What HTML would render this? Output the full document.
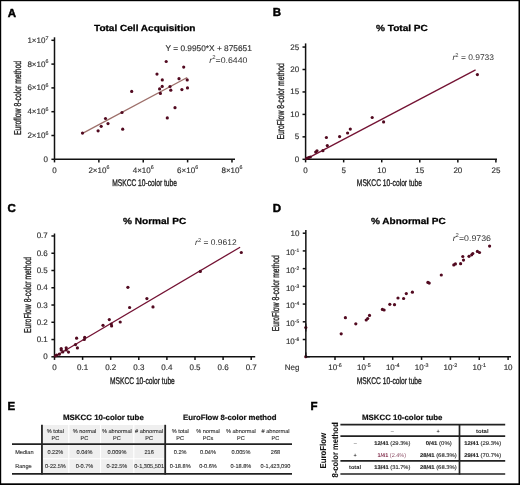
<!DOCTYPE html>
<html><head><meta charset="utf-8"><style>
html,body{margin:0;padding:0;background:#fff;}
svg{display:block;font-family:"Liberation Sans", sans-serif;will-change:transform;text-rendering:geometricPrecision;}
.l{stroke:#2a2a2a;stroke-width:0.15px;}
</style></head><body>
<svg width="520" height="485" viewBox="0 0 520 485">
<rect width="520" height="485" fill="#fff"/>
<rect x="0.00" y="0.00" width="520.00" height="1.20" fill="#000"/>
<rect x="0.00" y="0.00" width="1.20" height="485.00" fill="#000"/>
<rect x="518.50" y="0.00" width="1.50" height="485.00" fill="#000"/>
<rect x="0.00" y="483.30" width="520.00" height="1.70" fill="#000"/>
<text x="7.80" y="16.50" font-size="11.5" font-weight="bold" fill="#000" stroke="#000" stroke-width="0.45">A</text>
<text x="272.80" y="16.30" font-size="11.5" font-weight="bold" fill="#000" stroke="#000" stroke-width="0.45">B</text>
<text x="7.50" y="212.30" font-size="11.5" font-weight="bold" fill="#000" stroke="#000" stroke-width="0.45">C</text>
<text x="272.80" y="212.40" font-size="11.5" font-weight="bold" fill="#000" stroke="#000" stroke-width="0.45">D</text>
<text x="7.40" y="409.90" font-size="11.5" font-weight="bold" fill="#000" stroke="#000" stroke-width="0.45">E</text>
<text x="310.50" y="409.90" font-size="11.5" font-weight="bold" fill="#000" stroke="#000" stroke-width="0.45">F</text>
<text x="94.00" y="30.60" font-size="8.9" font-weight="bold" textLength="101.50" lengthAdjust="spacingAndGlyphs" fill="#000" stroke="#000" stroke-width="0.25">Total Cell Acquisition</text>
<line x1="54.50" y1="37.30" x2="54.50" y2="159.30" stroke="#111" stroke-width="1.5"/>
<line x1="54.50" y1="159.30" x2="235.00" y2="159.30" stroke="#111" stroke-width="1.5"/>
<line x1="54.50" y1="159.30" x2="54.50" y2="162.40" stroke="#111" stroke-width="1.5"/>
<line x1="98.87" y1="159.30" x2="98.87" y2="162.40" stroke="#111" stroke-width="1.5"/>
<line x1="143.24" y1="159.30" x2="143.24" y2="162.40" stroke="#111" stroke-width="1.5"/>
<line x1="187.61" y1="159.30" x2="187.61" y2="162.40" stroke="#111" stroke-width="1.5"/>
<line x1="231.98" y1="159.30" x2="231.98" y2="162.40" stroke="#111" stroke-width="1.5"/>
<line x1="51.40" y1="159.30" x2="54.50" y2="159.30" stroke="#111" stroke-width="1.5"/>
<line x1="51.40" y1="135.50" x2="54.50" y2="135.50" stroke="#111" stroke-width="1.5"/>
<line x1="51.40" y1="111.70" x2="54.50" y2="111.70" stroke="#111" stroke-width="1.5"/>
<line x1="51.40" y1="87.90" x2="54.50" y2="87.90" stroke="#111" stroke-width="1.5"/>
<line x1="51.40" y1="64.10" x2="54.50" y2="64.10" stroke="#111" stroke-width="1.5"/>
<line x1="51.40" y1="40.30" x2="54.50" y2="40.30" stroke="#111" stroke-width="1.5"/>
<text x="48.00" y="161.80" font-size="8.0" text-anchor="end" fill="#333" class="l">0</text>
<text x="48.4" y="138.00" font-size="8.0" text-anchor="end" fill="#333" class="l">2×10<tspan font-size="5.3" dy="-3.3">6</tspan></text>
<text x="48.4" y="114.20" font-size="8.0" text-anchor="end" fill="#333" class="l">4×10<tspan font-size="5.3" dy="-3.3">6</tspan></text>
<text x="48.4" y="90.40" font-size="8.0" text-anchor="end" fill="#333" class="l">6×10<tspan font-size="5.3" dy="-3.3">6</tspan></text>
<text x="48.4" y="66.60" font-size="8.0" text-anchor="end" fill="#333" class="l">8×10<tspan font-size="5.3" dy="-3.3">6</tspan></text>
<text x="48.4" y="42.80" font-size="8.0" text-anchor="end" fill="#333" class="l">1×10<tspan font-size="5.3" dy="-3.3">7</tspan></text>
<text x="54.50" y="172.60" font-size="8.0" text-anchor="middle" fill="#333" class="l">0</text>
<text x="98.87" y="172.6" font-size="8.0" text-anchor="middle" fill="#333" class="l">2×10<tspan font-size="5.3" dy="-3.3">6</tspan></text>
<text x="143.24" y="172.6" font-size="8.0" text-anchor="middle" fill="#333" class="l">4×10<tspan font-size="5.3" dy="-3.3">6</tspan></text>
<text x="187.61" y="172.6" font-size="8.0" text-anchor="middle" fill="#333" class="l">6×10<tspan font-size="5.3" dy="-3.3">6</tspan></text>
<text x="231.98" y="172.6" font-size="8.0" text-anchor="middle" fill="#333" class="l">8×10<tspan font-size="5.3" dy="-3.3">6</tspan></text>
<text x="112.20" y="185.70" font-size="9.6" textLength="64.80" lengthAdjust="spacingAndGlyphs" fill="#222" stroke="#222" stroke-width="0.35">MSKCC 10-color tube</text>
<text transform="translate(21.0,135.1) rotate(-90)" x="0" y="0" font-size="10" stroke="#222" stroke-width="0.35" textLength="74.1" lengthAdjust="spacingAndGlyphs" fill="#222">Euroflow 8-color method</text>
<text x="165.60" y="51.20" font-size="8.2" textLength="86.20" lengthAdjust="spacingAndGlyphs" fill="#333" class="l">Y = 0.9950*X + 875651</text>
<text x="209.3" y="62.7" font-size="8.2" fill="#333" textLength="38.2" lengthAdjust="spacingAndGlyphs"><tspan font-style="italic">r</tspan><tspan font-size="5.6" dy="-3.4">2</tspan><tspan dy="3.4">=0.6440</tspan></text>
<line x1="82.50" y1="133.40" x2="187.20" y2="77.50" stroke="#9d6f6a" stroke-width="1.3"/>
<circle cx="82.50" cy="133.10" r="1.6" fill="#520a20"/>
<circle cx="98.10" cy="130.80" r="1.6" fill="#520a20"/>
<circle cx="101.20" cy="126.30" r="1.6" fill="#520a20"/>
<circle cx="105.50" cy="118.50" r="1.6" fill="#520a20"/>
<circle cx="108.00" cy="123.60" r="1.6" fill="#520a20"/>
<circle cx="122.00" cy="112.50" r="1.6" fill="#520a20"/>
<circle cx="122.70" cy="129.20" r="1.6" fill="#520a20"/>
<circle cx="131.70" cy="91.40" r="1.6" fill="#520a20"/>
<circle cx="157.00" cy="74.10" r="1.6" fill="#520a20"/>
<circle cx="159.60" cy="88.90" r="1.6" fill="#520a20"/>
<circle cx="160.40" cy="93.40" r="1.6" fill="#520a20"/>
<circle cx="162.20" cy="86.40" r="1.6" fill="#520a20"/>
<circle cx="162.30" cy="79.90" r="1.6" fill="#520a20"/>
<circle cx="166.20" cy="61.50" r="1.6" fill="#520a20"/>
<circle cx="167.30" cy="117.90" r="1.6" fill="#520a20"/>
<circle cx="170.00" cy="86.50" r="1.6" fill="#520a20"/>
<circle cx="170.80" cy="90.20" r="1.6" fill="#520a20"/>
<circle cx="175.00" cy="107.70" r="1.6" fill="#520a20"/>
<circle cx="179.00" cy="78.70" r="1.6" fill="#520a20"/>
<circle cx="181.90" cy="89.60" r="1.6" fill="#520a20"/>
<circle cx="183.70" cy="67.10" r="1.6" fill="#520a20"/>
<circle cx="187.20" cy="79.90" r="1.6" fill="#520a20"/>
<circle cx="187.50" cy="87.90" r="1.6" fill="#520a20"/>
<text x="376.00" y="30.60" font-size="8.9" font-weight="bold" textLength="51.80" lengthAdjust="spacingAndGlyphs" fill="#000" stroke="#000" stroke-width="0.25">% Total PC</text>
<line x1="305.60" y1="43.40" x2="305.60" y2="159.30" stroke="#111" stroke-width="1.5"/>
<line x1="305.60" y1="159.30" x2="497.00" y2="159.30" stroke="#111" stroke-width="1.5"/>
<line x1="305.60" y1="159.30" x2="305.60" y2="162.40" stroke="#111" stroke-width="1.5"/>
<line x1="343.66" y1="159.30" x2="343.66" y2="162.40" stroke="#111" stroke-width="1.5"/>
<line x1="381.72" y1="159.30" x2="381.72" y2="162.40" stroke="#111" stroke-width="1.5"/>
<line x1="419.78" y1="159.30" x2="419.78" y2="162.40" stroke="#111" stroke-width="1.5"/>
<line x1="457.84" y1="159.30" x2="457.84" y2="162.40" stroke="#111" stroke-width="1.5"/>
<line x1="495.90" y1="159.30" x2="495.90" y2="162.40" stroke="#111" stroke-width="1.5"/>
<line x1="302.50" y1="159.30" x2="305.60" y2="159.30" stroke="#111" stroke-width="1.5"/>
<line x1="302.50" y1="136.85" x2="305.60" y2="136.85" stroke="#111" stroke-width="1.5"/>
<line x1="302.50" y1="114.40" x2="305.60" y2="114.40" stroke="#111" stroke-width="1.5"/>
<line x1="302.50" y1="91.95" x2="305.60" y2="91.95" stroke="#111" stroke-width="1.5"/>
<line x1="302.50" y1="69.50" x2="305.60" y2="69.50" stroke="#111" stroke-width="1.5"/>
<line x1="302.50" y1="47.05" x2="305.60" y2="47.05" stroke="#111" stroke-width="1.5"/>
<text x="299.20" y="161.80" font-size="8.0" text-anchor="end" fill="#333" class="l">0</text>
<text x="299.20" y="139.35" font-size="8.0" text-anchor="end" fill="#333" class="l">5</text>
<text x="299.20" y="116.90" font-size="8.0" text-anchor="end" fill="#333" class="l">10</text>
<text x="299.20" y="94.45" font-size="8.0" text-anchor="end" fill="#333" class="l">15</text>
<text x="299.20" y="72.00" font-size="8.0" text-anchor="end" fill="#333" class="l">20</text>
<text x="299.20" y="49.55" font-size="8.0" text-anchor="end" fill="#333" class="l">25</text>
<text x="305.60" y="172.60" font-size="8.0" text-anchor="middle" fill="#333" class="l">0</text>
<text x="343.66" y="172.60" font-size="8.0" text-anchor="middle" fill="#333" class="l">5</text>
<text x="381.72" y="172.60" font-size="8.0" text-anchor="middle" fill="#333" class="l">10</text>
<text x="419.78" y="172.60" font-size="8.0" text-anchor="middle" fill="#333" class="l">15</text>
<text x="457.84" y="172.60" font-size="8.0" text-anchor="middle" fill="#333" class="l">20</text>
<text x="495.90" y="172.60" font-size="8.0" text-anchor="middle" fill="#333" class="l">25</text>
<text x="356.80" y="185.70" font-size="9.6" textLength="65.20" lengthAdjust="spacingAndGlyphs" fill="#222" stroke="#222" stroke-width="0.35">MSKCC 10-color tube</text>
<text transform="translate(283.9,139.6) rotate(-90)" x="0" y="0" font-size="10" stroke="#222" stroke-width="0.35" textLength="76.5" lengthAdjust="spacingAndGlyphs" fill="#222">EuroFlow 8-color method</text>
<text x="452.5" y="60.3" font-size="8.2" fill="#333" textLength="41.5" lengthAdjust="spacingAndGlyphs"><tspan font-style="italic">r</tspan><tspan font-size="5.6" dy="-3.4">2</tspan><tspan dy="3.4"> = 0.9733</tspan></text>
<line x1="305.60" y1="159.30" x2="475.60" y2="69.90" stroke="#741334" stroke-width="1.3"/>
<circle cx="477.40" cy="74.60" r="1.6" fill="#520a20"/>
<circle cx="383.60" cy="121.90" r="1.6" fill="#520a20"/>
<circle cx="372.20" cy="117.50" r="1.6" fill="#520a20"/>
<circle cx="350.30" cy="129.10" r="1.6" fill="#520a20"/>
<circle cx="347.60" cy="133.00" r="1.6" fill="#520a20"/>
<circle cx="339.60" cy="136.60" r="1.6" fill="#520a20"/>
<circle cx="326.40" cy="137.50" r="1.6" fill="#520a20"/>
<circle cx="327.30" cy="145.60" r="1.6" fill="#520a20"/>
<circle cx="322.90" cy="150.70" r="1.6" fill="#520a20"/>
<circle cx="317.00" cy="150.80" r="1.6" fill="#520a20"/>
<circle cx="315.70" cy="152.10" r="1.6" fill="#520a20"/>
<circle cx="306.60" cy="158.40" r="1.6" fill="#520a20"/>
<circle cx="308.50" cy="157.60" r="1.6" fill="#520a20"/>
<circle cx="310.30" cy="157.00" r="1.6" fill="#520a20"/>
<text x="123.00" y="223.60" font-size="8.9" font-weight="bold" textLength="63.20" lengthAdjust="spacingAndGlyphs" fill="#000" stroke="#000" stroke-width="0.25">% Normal PC</text>
<line x1="54.50" y1="233.50" x2="54.50" y2="356.80" stroke="#111" stroke-width="1.5"/>
<line x1="54.50" y1="356.80" x2="255.20" y2="356.80" stroke="#111" stroke-width="1.5"/>
<line x1="54.50" y1="356.80" x2="54.50" y2="359.90" stroke="#111" stroke-width="1.5"/>
<line x1="82.60" y1="356.80" x2="82.60" y2="359.90" stroke="#111" stroke-width="1.5"/>
<line x1="110.70" y1="356.80" x2="110.70" y2="359.90" stroke="#111" stroke-width="1.5"/>
<line x1="138.80" y1="356.80" x2="138.80" y2="359.90" stroke="#111" stroke-width="1.5"/>
<line x1="166.90" y1="356.80" x2="166.90" y2="359.90" stroke="#111" stroke-width="1.5"/>
<line x1="195.00" y1="356.80" x2="195.00" y2="359.90" stroke="#111" stroke-width="1.5"/>
<line x1="223.10" y1="356.80" x2="223.10" y2="359.90" stroke="#111" stroke-width="1.5"/>
<line x1="251.20" y1="356.80" x2="251.20" y2="359.90" stroke="#111" stroke-width="1.5"/>
<line x1="51.40" y1="356.80" x2="54.50" y2="356.80" stroke="#111" stroke-width="1.5"/>
<line x1="51.40" y1="339.54" x2="54.50" y2="339.54" stroke="#111" stroke-width="1.5"/>
<line x1="51.40" y1="322.28" x2="54.50" y2="322.28" stroke="#111" stroke-width="1.5"/>
<line x1="51.40" y1="305.02" x2="54.50" y2="305.02" stroke="#111" stroke-width="1.5"/>
<line x1="51.40" y1="287.76" x2="54.50" y2="287.76" stroke="#111" stroke-width="1.5"/>
<line x1="51.40" y1="270.50" x2="54.50" y2="270.50" stroke="#111" stroke-width="1.5"/>
<line x1="51.40" y1="253.24" x2="54.50" y2="253.24" stroke="#111" stroke-width="1.5"/>
<line x1="51.40" y1="235.98" x2="54.50" y2="235.98" stroke="#111" stroke-width="1.5"/>
<text x="47.80" y="359.30" font-size="8.0" text-anchor="end" fill="#333" class="l">0</text>
<text x="47.80" y="342.04" font-size="8.0" text-anchor="end" fill="#333" class="l">0.1</text>
<text x="47.80" y="324.78" font-size="8.0" text-anchor="end" fill="#333" class="l">0.2</text>
<text x="47.80" y="307.52" font-size="8.0" text-anchor="end" fill="#333" class="l">0.3</text>
<text x="47.80" y="290.26" font-size="8.0" text-anchor="end" fill="#333" class="l">0.4</text>
<text x="47.80" y="273.00" font-size="8.0" text-anchor="end" fill="#333" class="l">0.5</text>
<text x="47.80" y="255.74" font-size="8.0" text-anchor="end" fill="#333" class="l">0.6</text>
<text x="47.80" y="238.48" font-size="8.0" text-anchor="end" fill="#333" class="l">0.7</text>
<text x="54.50" y="370.00" font-size="8.0" text-anchor="middle" fill="#333" class="l">0</text>
<text x="82.60" y="370.00" font-size="8.0" text-anchor="middle" fill="#333" class="l">0.1</text>
<text x="110.70" y="370.00" font-size="8.0" text-anchor="middle" fill="#333" class="l">0.2</text>
<text x="138.80" y="370.00" font-size="8.0" text-anchor="middle" fill="#333" class="l">0.3</text>
<text x="166.90" y="370.00" font-size="8.0" text-anchor="middle" fill="#333" class="l">0.4</text>
<text x="195.00" y="370.00" font-size="8.0" text-anchor="middle" fill="#333" class="l">0.5</text>
<text x="223.10" y="370.00" font-size="8.0" text-anchor="middle" fill="#333" class="l">0.6</text>
<text x="251.20" y="370.00" font-size="8.0" text-anchor="middle" fill="#333" class="l">0.7</text>
<text x="110.00" y="383.50" font-size="9.6" textLength="64.80" lengthAdjust="spacingAndGlyphs" fill="#222" stroke="#222" stroke-width="0.35">MSKCC 10-color tube</text>
<text transform="translate(30.6,333.0) rotate(-90)" x="0" y="0" font-size="10" stroke="#222" stroke-width="0.35" textLength="76.1" lengthAdjust="spacingAndGlyphs" fill="#222">EuroFlow 8-color method</text>
<text x="195.1" y="245.2" font-size="8.2" fill="#333" textLength="41.5" lengthAdjust="spacingAndGlyphs"><tspan font-style="italic">r</tspan><tspan font-size="5.6" dy="-3.4">2</tspan><tspan dy="3.4"> = 0.9612</tspan></text>
<line x1="54.50" y1="356.80" x2="240.10" y2="247.20" stroke="#741334" stroke-width="1.3"/>
<circle cx="76.60" cy="338.20" r="1.6" fill="#520a20"/>
<circle cx="84.70" cy="337.30" r="1.6" fill="#520a20"/>
<circle cx="84.30" cy="339.50" r="1.6" fill="#520a20"/>
<circle cx="75.50" cy="344.60" r="1.6" fill="#520a20"/>
<circle cx="77.40" cy="347.90" r="1.6" fill="#520a20"/>
<circle cx="61.20" cy="348.50" r="1.6" fill="#520a20"/>
<circle cx="61.20" cy="350.00" r="1.6" fill="#520a20"/>
<circle cx="66.20" cy="347.80" r="1.6" fill="#520a20"/>
<circle cx="66.20" cy="350.00" r="1.6" fill="#520a20"/>
<circle cx="68.50" cy="352.10" r="1.6" fill="#520a20"/>
<circle cx="62.80" cy="351.90" r="1.6" fill="#520a20"/>
<circle cx="59.30" cy="354.20" r="1.6" fill="#520a20"/>
<circle cx="56.60" cy="355.00" r="1.6" fill="#520a20"/>
<circle cx="55.50" cy="355.80" r="1.6" fill="#520a20"/>
<circle cx="109.30" cy="319.60" r="1.6" fill="#520a20"/>
<circle cx="120.20" cy="322.00" r="1.6" fill="#520a20"/>
<circle cx="103.00" cy="325.30" r="1.6" fill="#520a20"/>
<circle cx="111.30" cy="324.00" r="1.6" fill="#520a20"/>
<circle cx="111.60" cy="326.00" r="1.6" fill="#520a20"/>
<circle cx="127.90" cy="287.30" r="1.6" fill="#520a20"/>
<circle cx="146.90" cy="298.60" r="1.6" fill="#520a20"/>
<circle cx="129.60" cy="307.50" r="1.6" fill="#520a20"/>
<circle cx="153.00" cy="306.90" r="1.6" fill="#520a20"/>
<circle cx="200.30" cy="271.40" r="1.6" fill="#520a20"/>
<circle cx="241.30" cy="252.50" r="1.6" fill="#520a20"/>
<text x="371.00" y="223.60" font-size="8.9" font-weight="bold" textLength="74.80" lengthAdjust="spacingAndGlyphs" fill="#000" stroke="#000" stroke-width="0.25">% Abnormal PC</text>
<line x1="305.85" y1="230.10" x2="305.85" y2="356.80" stroke="#111" stroke-width="1.5"/>
<line x1="305.85" y1="356.80" x2="511.00" y2="356.80" stroke="#111" stroke-width="1.5"/>
<line x1="335.00" y1="356.80" x2="335.00" y2="359.90" stroke="#111" stroke-width="1.5"/>
<line x1="363.85" y1="356.80" x2="363.85" y2="359.90" stroke="#111" stroke-width="1.5"/>
<line x1="392.70" y1="356.80" x2="392.70" y2="359.90" stroke="#111" stroke-width="1.5"/>
<line x1="421.55" y1="356.80" x2="421.55" y2="359.90" stroke="#111" stroke-width="1.5"/>
<line x1="450.40" y1="356.80" x2="450.40" y2="359.90" stroke="#111" stroke-width="1.5"/>
<line x1="479.25" y1="356.80" x2="479.25" y2="359.90" stroke="#111" stroke-width="1.5"/>
<line x1="508.10" y1="356.80" x2="508.10" y2="359.90" stroke="#111" stroke-width="1.5"/>
<line x1="302.75" y1="233.20" x2="305.85" y2="233.20" stroke="#111" stroke-width="1.5"/>
<line x1="302.75" y1="250.92" x2="305.85" y2="250.92" stroke="#111" stroke-width="1.5"/>
<line x1="302.75" y1="268.64" x2="305.85" y2="268.64" stroke="#111" stroke-width="1.5"/>
<line x1="302.75" y1="286.36" x2="305.85" y2="286.36" stroke="#111" stroke-width="1.5"/>
<line x1="302.75" y1="304.08" x2="305.85" y2="304.08" stroke="#111" stroke-width="1.5"/>
<line x1="302.75" y1="321.80" x2="305.85" y2="321.80" stroke="#111" stroke-width="1.5"/>
<line x1="302.75" y1="339.52" x2="305.85" y2="339.52" stroke="#111" stroke-width="1.5"/>
<text x="299.40" y="235.70" font-size="8.0" text-anchor="end" fill="#333" class="l">10</text>
<text x="299.2" y="255.12" font-size="8.0" text-anchor="end" fill="#333" class="l">10<tspan font-size="4.9" dy="-3.0">-1</tspan></text>
<text x="299.2" y="272.84" font-size="8.0" text-anchor="end" fill="#333" class="l">10<tspan font-size="4.9" dy="-3.0">-2</tspan></text>
<text x="299.2" y="290.56" font-size="8.0" text-anchor="end" fill="#333" class="l">10<tspan font-size="4.9" dy="-3.0">-3</tspan></text>
<text x="299.2" y="308.28" font-size="8.0" text-anchor="end" fill="#333" class="l">10<tspan font-size="4.9" dy="-3.0">-4</tspan></text>
<text x="299.2" y="326.00" font-size="8.0" text-anchor="end" fill="#333" class="l">10<tspan font-size="4.9" dy="-3.0">-5</tspan></text>
<text x="299.2" y="343.72" font-size="8.0" text-anchor="end" fill="#333" class="l">10<tspan font-size="4.9" dy="-3.0">-6</tspan></text>
<text x="292.20" y="370.00" font-size="8.0" text-anchor="middle" fill="#333" class="l">Neg</text>
<text x="335.00" y="370.0" font-size="8.0" text-anchor="middle" fill="#333" class="l">10<tspan font-size="5.3" dy="-3.3">-6</tspan></text>
<text x="363.85" y="370.0" font-size="8.0" text-anchor="middle" fill="#333" class="l">10<tspan font-size="5.3" dy="-3.3">-5</tspan></text>
<text x="392.70" y="370.0" font-size="8.0" text-anchor="middle" fill="#333" class="l">10<tspan font-size="5.3" dy="-3.3">-4</tspan></text>
<text x="421.55" y="370.0" font-size="8.0" text-anchor="middle" fill="#333" class="l">10<tspan font-size="5.3" dy="-3.3">-3</tspan></text>
<text x="450.40" y="370.0" font-size="8.0" text-anchor="middle" fill="#333" class="l">10<tspan font-size="5.3" dy="-3.3">-2</tspan></text>
<text x="479.25" y="370.0" font-size="8.0" text-anchor="middle" fill="#333" class="l">10<tspan font-size="5.3" dy="-3.3">-1</tspan></text>
<text x="508.10" y="370.00" font-size="8.0" text-anchor="middle" fill="#333" class="l">10</text>
<text x="356.80" y="383.50" font-size="9.6" textLength="65.00" lengthAdjust="spacingAndGlyphs" fill="#222" stroke="#222" stroke-width="0.35">MSKCC 10-color tube</text>
<text transform="translate(278.5,331.3) rotate(-90)" x="0" y="0" font-size="10" stroke="#222" stroke-width="0.35" textLength="76.2" lengthAdjust="spacingAndGlyphs" fill="#222">EuroFlow 8-color method</text>
<text x="452.7" y="240.7" font-size="8.2" fill="#333" textLength="38.2" lengthAdjust="spacingAndGlyphs"><tspan font-style="italic">r</tspan><tspan font-size="5.6" dy="-3.4">2</tspan><tspan dy="3.4">=0.9736</tspan></text>
<circle cx="345.40" cy="317.70" r="1.6" fill="#520a20"/>
<circle cx="341.20" cy="333.80" r="1.6" fill="#520a20"/>
<circle cx="355.80" cy="323.80" r="1.6" fill="#520a20"/>
<circle cx="366.20" cy="320.00" r="1.6" fill="#520a20"/>
<circle cx="367.70" cy="318.50" r="1.6" fill="#520a20"/>
<circle cx="369.50" cy="315.40" r="1.6" fill="#520a20"/>
<circle cx="305.80" cy="327.60" r="1.6" fill="#520a20"/>
<circle cx="305.80" cy="356.70" r="1.6" fill="#520a20"/>
<circle cx="382.40" cy="309.40" r="1.6" fill="#520a20"/>
<circle cx="384.10" cy="310.00" r="1.6" fill="#520a20"/>
<circle cx="389.80" cy="304.30" r="1.6" fill="#520a20"/>
<circle cx="394.50" cy="304.70" r="1.6" fill="#520a20"/>
<circle cx="398.00" cy="298.00" r="1.6" fill="#520a20"/>
<circle cx="403.60" cy="298.50" r="1.6" fill="#520a20"/>
<circle cx="406.30" cy="293.60" r="1.6" fill="#520a20"/>
<circle cx="412.40" cy="292.20" r="1.6" fill="#520a20"/>
<circle cx="427.90" cy="282.40" r="1.6" fill="#520a20"/>
<circle cx="429.20" cy="283.10" r="1.6" fill="#520a20"/>
<circle cx="441.30" cy="275.00" r="1.6" fill="#520a20"/>
<circle cx="453.80" cy="264.90" r="1.6" fill="#520a20"/>
<circle cx="455.40" cy="263.90" r="1.6" fill="#520a20"/>
<circle cx="460.60" cy="263.70" r="1.6" fill="#520a20"/>
<circle cx="462.80" cy="256.50" r="1.6" fill="#520a20"/>
<circle cx="463.50" cy="260.10" r="1.6" fill="#520a20"/>
<circle cx="469.00" cy="256.30" r="1.6" fill="#520a20"/>
<circle cx="471.70" cy="254.80" r="1.6" fill="#520a20"/>
<circle cx="472.80" cy="253.50" r="1.6" fill="#520a20"/>
<circle cx="477.40" cy="251.40" r="1.6" fill="#520a20"/>
<circle cx="479.50" cy="252.50" r="1.6" fill="#520a20"/>
<circle cx="489.60" cy="246.10" r="1.6" fill="#520a20"/>
<line x1="305.85" y1="323.50" x2="305.85" y2="331.50" stroke="#111" stroke-width="1.2"/>
<line x1="305.85" y1="352.50" x2="305.85" y2="356.80" stroke="#111" stroke-width="1.2"/>
<line x1="305.85" y1="356.80" x2="309.85" y2="356.80" stroke="#111" stroke-width="1.2"/>
<text x="63.00" y="419.70" font-size="7.7" font-weight="bold" textLength="80.80" lengthAdjust="spacingAndGlyphs" fill="#111" stroke="#111" stroke-width="0.2">MSKCC 10-color tube</text>
<text x="183.00" y="420.30" font-size="7.7" font-weight="bold" textLength="93.60" lengthAdjust="spacingAndGlyphs" fill="#111" stroke="#111" stroke-width="0.2">EuroFlow 8-color method</text>
<rect x="42.70" y="425.00" width="25.50" height="18.30" fill="#efefef"/>
<rect x="42.70" y="444.90" width="25.50" height="13.30" fill="#efefef"/>
<rect x="42.70" y="459.30" width="25.50" height="13.60" fill="#efefef"/>
<rect x="69.40" y="425.00" width="30.60" height="18.30" fill="#efefef"/>
<rect x="69.40" y="444.90" width="30.60" height="13.30" fill="#efefef"/>
<rect x="69.40" y="459.30" width="30.60" height="13.60" fill="#efefef"/>
<rect x="101.10" y="425.00" width="32.10" height="18.30" fill="#efefef"/>
<rect x="101.10" y="444.90" width="32.10" height="13.30" fill="#efefef"/>
<rect x="101.10" y="459.30" width="32.10" height="13.60" fill="#efefef"/>
<rect x="134.40" y="425.00" width="30.10" height="18.30" fill="#efefef"/>
<rect x="134.40" y="444.90" width="30.10" height="13.30" fill="#efefef"/>
<rect x="134.40" y="459.30" width="30.10" height="13.60" fill="#efefef"/>
<line x1="41.95" y1="424.80" x2="41.95" y2="474.60" stroke="#222" stroke-width="1.8"/>
<line x1="165.20" y1="424.80" x2="165.20" y2="474.60" stroke="#222" stroke-width="1.8"/>
<line x1="12.00" y1="444.05" x2="292.00" y2="444.05" stroke="#222" stroke-width="1.8"/>
<line x1="12.00" y1="473.85" x2="292.00" y2="473.85" stroke="#222" stroke-width="1.8"/>
<text x="55.40" y="433.10" font-size="5.6" text-anchor="middle" fill="#333" stroke="#333" stroke-width="0.12">% total</text>
<text x="55.40" y="439.80" font-size="5.6" text-anchor="middle" fill="#333" stroke="#333" stroke-width="0.12">PC</text>
<text x="84.50" y="433.10" font-size="5.6" text-anchor="middle" fill="#333" stroke="#333" stroke-width="0.12">% normal</text>
<text x="84.50" y="439.80" font-size="5.6" text-anchor="middle" fill="#333" stroke="#333" stroke-width="0.12">PC</text>
<text x="116.90" y="433.10" font-size="5.6" text-anchor="middle" fill="#333" stroke="#333" stroke-width="0.12">% abnormal</text>
<text x="116.90" y="439.80" font-size="5.6" text-anchor="middle" fill="#333" stroke="#333" stroke-width="0.12">PC</text>
<text x="149.10" y="433.10" font-size="5.6" text-anchor="middle" fill="#333" stroke="#333" stroke-width="0.12"># abnormal</text>
<text x="149.10" y="439.80" font-size="5.6" text-anchor="middle" fill="#333" stroke="#333" stroke-width="0.12">PC</text>
<text x="180.20" y="433.10" font-size="5.6" text-anchor="middle" fill="#333" stroke="#333" stroke-width="0.12">% total</text>
<text x="180.20" y="439.80" font-size="5.6" text-anchor="middle" fill="#333" stroke="#333" stroke-width="0.12">PC</text>
<text x="208.00" y="433.10" font-size="5.6" text-anchor="middle" fill="#333" stroke="#333" stroke-width="0.12">% normal</text>
<text x="208.00" y="439.80" font-size="5.6" text-anchor="middle" fill="#333" stroke="#333" stroke-width="0.12">PCs</text>
<text x="240.90" y="433.10" font-size="5.6" text-anchor="middle" fill="#333" stroke="#333" stroke-width="0.12">% abnormal</text>
<text x="240.90" y="439.80" font-size="5.6" text-anchor="middle" fill="#333" stroke="#333" stroke-width="0.12">PC</text>
<text x="275.50" y="433.10" font-size="5.6" text-anchor="middle" fill="#333" stroke="#333" stroke-width="0.12"># abnormal</text>
<text x="275.50" y="439.80" font-size="5.6" text-anchor="middle" fill="#333" stroke="#333" stroke-width="0.12">PC</text>
<text x="55.40" y="453.60" font-size="5.6" text-anchor="middle" fill="#333" stroke="#333" stroke-width="0.12">0.22%</text>
<text x="55.40" y="467.90" font-size="5.6" text-anchor="middle" fill="#333" stroke="#333" stroke-width="0.12">0-22.5%</text>
<text x="84.50" y="453.60" font-size="5.6" text-anchor="middle" fill="#333" stroke="#333" stroke-width="0.12">0.04%</text>
<text x="84.50" y="467.90" font-size="5.6" text-anchor="middle" fill="#333" stroke="#333" stroke-width="0.12">0-0.7%</text>
<text x="116.90" y="453.60" font-size="5.6" text-anchor="middle" fill="#333" stroke="#333" stroke-width="0.12">0.009%</text>
<text x="116.90" y="467.90" font-size="5.6" text-anchor="middle" fill="#333" stroke="#333" stroke-width="0.12">0-22.5%</text>
<text x="149.10" y="453.60" font-size="5.6" text-anchor="middle" fill="#333" stroke="#333" stroke-width="0.12">216</text>
<text x="149.10" y="467.90" font-size="5.6" text-anchor="middle" fill="#333" stroke="#333" stroke-width="0.12">0-1,305,501</text>
<text x="180.20" y="453.60" font-size="5.6" text-anchor="middle" fill="#333" stroke="#333" stroke-width="0.12">0.2%</text>
<text x="180.20" y="467.90" font-size="5.6" text-anchor="middle" fill="#333" stroke="#333" stroke-width="0.12">0-18.8%</text>
<text x="208.00" y="453.60" font-size="5.6" text-anchor="middle" fill="#333" stroke="#333" stroke-width="0.12">0.04%</text>
<text x="208.00" y="467.90" font-size="5.6" text-anchor="middle" fill="#333" stroke="#333" stroke-width="0.12">0-0.6%</text>
<text x="240.90" y="453.60" font-size="5.6" text-anchor="middle" fill="#333" stroke="#333" stroke-width="0.12">0.005%</text>
<text x="240.90" y="467.90" font-size="5.6" text-anchor="middle" fill="#333" stroke="#333" stroke-width="0.12">0-18.8%</text>
<text x="275.50" y="453.60" font-size="5.6" text-anchor="middle" fill="#333" stroke="#333" stroke-width="0.12">268</text>
<text x="275.50" y="467.90" font-size="5.6" text-anchor="middle" fill="#333" stroke="#333" stroke-width="0.12">0-1,423,090</text>
<text x="15.20" y="453.60" font-size="5.6" fill="#333" stroke="#333" stroke-width="0.12">Median</text>
<text x="15.20" y="467.90" font-size="5.6" fill="#333" stroke="#333" stroke-width="0.12">Range</text>
<text x="362.00" y="420.10" font-size="7.7" font-weight="bold" textLength="80.50" lengthAdjust="spacingAndGlyphs" fill="#111" stroke="#111" stroke-width="0.2">MSKCC 10-color tube</text>
<line x1="340.40" y1="424.70" x2="505.20" y2="424.70" stroke="#222" stroke-width="1.7"/>
<line x1="340.40" y1="436.20" x2="505.20" y2="436.20" stroke="#222" stroke-width="1.7"/>
<line x1="340.40" y1="460.90" x2="505.20" y2="460.90" stroke="#222" stroke-width="1.7"/>
<line x1="340.40" y1="474.00" x2="505.20" y2="474.00" stroke="#222" stroke-width="1.7"/>
<line x1="459.50" y1="424.00" x2="459.50" y2="474.60" stroke="#222" stroke-width="1.7"/>
<text transform="translate(325.8,468.6) rotate(-90)" font-size="8.6" font-weight="bold" stroke="#111" stroke-width="0.05" textLength="35.8" lengthAdjust="spacingAndGlyphs" fill="#111">EuroFlow</text>
<text transform="translate(337.5,477.6) rotate(-90)" font-size="8.6" font-weight="bold" stroke="#111" stroke-width="0.05" textLength="55.2" lengthAdjust="spacingAndGlyphs" fill="#111">8-color method</text>
<text x="392.20" y="432.80" font-size="5.5" text-anchor="middle" fill="#444">–</text>
<text x="438.20" y="432.80" font-size="5.5" font-weight="bold" text-anchor="middle" fill="#222">+</text>
<text x="482.30" y="432.60" font-size="5.5" font-weight="bold" text-anchor="middle" textLength="12.60" lengthAdjust="spacingAndGlyphs" fill="#222">total</text>
<text x="355.20" y="444.80" font-size="5.5" text-anchor="middle" fill="#444">–</text>
<text x="355.20" y="456.90" font-size="5.5" font-weight="bold" text-anchor="middle" fill="#222">+</text>
<text x="355.00" y="468.90" font-size="5.5" font-weight="bold" text-anchor="middle" textLength="12.00" lengthAdjust="spacingAndGlyphs" fill="#222">total</text>
<text x="374.20" y="444.80" font-size="5.5" textLength="36.20" lengthAdjust="spacingAndGlyphs" fill="#333" class="l"><tspan font-weight="bold" fill="#222">12/41</tspan> (29.3%)</text>
<text x="377.50" y="456.90" font-size="5.5" textLength="28.60" lengthAdjust="spacingAndGlyphs" fill="#8a4a62"><tspan font-weight="bold" fill="#7a2040">1/41</tspan> (2.4%)</text>
<text x="374.30" y="468.90" font-size="5.5" textLength="36.10" lengthAdjust="spacingAndGlyphs" fill="#333" class="l"><tspan font-weight="bold" fill="#222">13/41</tspan> (31.7%)</text>
<text x="425.80" y="444.80" font-size="5.5" textLength="25.90" lengthAdjust="spacingAndGlyphs" fill="#333" class="l"><tspan font-weight="bold" fill="#222">0/41</tspan> (0%)</text>
<text x="419.90" y="456.90" font-size="5.5" textLength="36.80" lengthAdjust="spacingAndGlyphs" fill="#333" class="l"><tspan font-weight="bold" fill="#222">28/41</tspan> (68.3%)</text>
<text x="419.90" y="468.90" font-size="5.5" textLength="36.80" lengthAdjust="spacingAndGlyphs" fill="#333" class="l"><tspan font-weight="bold" fill="#222">28/41</tspan> (68.3%)</text>
<text x="464.20" y="444.80" font-size="5.5" textLength="37.00" lengthAdjust="spacingAndGlyphs" fill="#333" class="l"><tspan font-weight="bold" fill="#222">12/41</tspan> (29.3%)</text>
<text x="464.20" y="456.90" font-size="5.5" textLength="37.00" lengthAdjust="spacingAndGlyphs" fill="#333" class="l"><tspan font-weight="bold" fill="#222">29/41</tspan> (70.7%)</text>
</svg>
</body></html>
